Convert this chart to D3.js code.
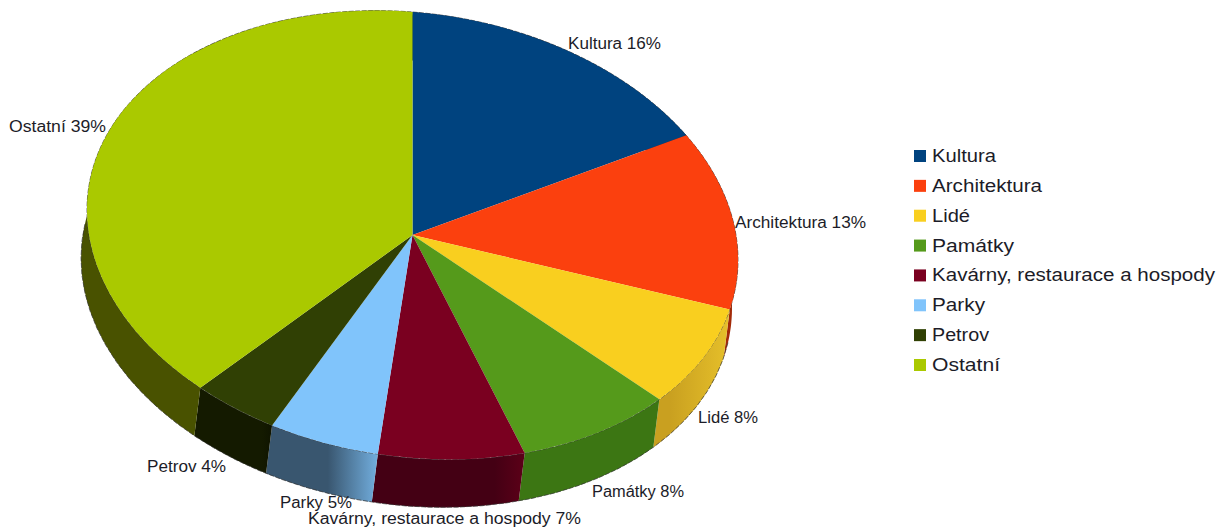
<!DOCTYPE html>
<html>
<head>
<meta charset="utf-8">
<script src="https://cdn.jsdelivr.net/npm/d3@7"></script>
<style>
  html, body { margin: 0; padding: 0; background: #fff; }
  svg { display: block; }
  text { font-family: "Liberation Sans", Arial, sans-serif; fill: #1c1c28; }
</style>
</head>
<body>
<svg id="chart" width="1216" height="527"></svg>
<script>
const categories = ['Kultura', 'Architektura', 'Lidé', 'Památky', 'Kavárny, restaurace a hospody', 'Parky', 'Petrov', 'Ostatní'];
// estimated off the slice edges, each one rounds to the printed label
const values = [15.9, 12.7, 7.7, 8.1, 7.3, 5.4, 4.2, 38.7];

const colors = ['#00437f', '#fb400e', '#f9cf1f', '#559a1b', '#7a0020', '#80c4fb', '#304004', '#aac900'];
// wall shading: main colour, colour at the right end, width of the fade in px
const walls = [
  ['#00284f', '#00284f', 0], ['#a32a08', '#a32a08', 0], ['#c9a020', '#e6c02a', 60], ['#3c7613', '#3f7c15', 0],
  ['#440014', '#5c0018', 30], ['#39566f', '#72aede', 50], ['#141a00', '#0f1400', 10], ['#495200', '#86a000', 22]
];

const svg = d3.select('#chart');
// the pie is a sheared ellipse: the right side sits lower than the left
const cx = 412.5, cy = 235, rx = 325.5, ry = 223, shear = 25;
const dropX = -6, dropY = 48;

const slices = d3.pie().sort(null).value(d => d)(values);
const topPt = t => [cx + rx * Math.sin(t), cy - ry * Math.cos(t) + shear * Math.sin(t)];
const botPt = t => { const p = topPt(t); return [p[0] + dropX, p[1] + dropY]; };
const arcPts = (fn, a, b) => d3.range(41).map(i => fn(a + (b - a) * i / 40));
const line = d3.line();

const defs = svg.append('defs');

// side walls first, the top face covers whatever is not visible
const wallG = svg.append('g');
slices.forEach((s, i) => {
  const upper = arcPts(topPt, s.startAngle, s.endAngle);
  const lower = arcPts(botPt, s.endAngle, s.startAngle);
  const pts = upper.concat(lower);
  const [x0, x1] = d3.extent(pts, p => p[0]);
  const [main, edge, fade] = walls[i];
  const grad = defs.append('linearGradient')
      .attr('id', 'wall' + i)
      .attr('gradientUnits', 'userSpaceOnUse')
      .attr('x1', x0).attr('x2', x1).attr('y1', 0).attr('y2', 0);
  grad.append('stop').attr('offset', 0).attr('stop-color', main);
  grad.append('stop').attr('offset', Math.max(0, 1 - fade / (x1 - x0))).attr('stop-color', main);
  grad.append('stop').attr('offset', 1).attr('stop-color', edge);
  wallG.append('path')
      .attr('d', line(pts) + 'Z')
      .attr('fill', `url(#wall${i})`);
});

// rough dark rim around the pie
const rim = d3.range(0, Math.PI * 2 + 0.01, 0.02);
svg.append('path')
    .attr('d', line(rim.map(topPt)))
    .attr('fill', 'none')
    .attr('stroke', '#333')
    .attr('stroke-width', 1)
    .attr('stroke-dasharray', '5 1.5')
    .attr('opacity', 0.7);
svg.append('path')
    .attr('d', line(arcPts(botPt, Math.PI * 0.55, Math.PI * 1.55)))
    .attr('fill', 'none')
    .attr('stroke', '#333')
    .attr('stroke-width', 1)
    .attr('stroke-dasharray', '5 1.5')
    .attr('opacity', 0.7);

// top face
const arc = d3.arc().innerRadius(0).outerRadius(rx);
svg.append('g')
    .attr('transform', `matrix(1,${shear / rx},0,${ry / rx},${cx},${cy})`)
  .selectAll('path')
  .data(slices)
  .join('path')
    .attr('d', arc)
    .attr('fill', (d, i) => colors[i]);

// slice labels, left edge and baseline by hand, no leader lines in the original
const labelPos = [[568, 49], [735, 228], [698, 423], [592, 497], [308, 524], [280, 508], [147, 472], [9, 132]];
const labelWidth = [93, 131, 60, 92, 273, 72, 79, 97];
svg.append('g')
  .selectAll('text')
  .data(categories)
  .join('text')
    .attr('x', (d, i) => labelPos[i][0])
    .attr('y', (d, i) => labelPos[i][1])
    .attr('font-size', 16)
    .attr('textLength', (d, i) => labelWidth[i])
    .attr('lengthAdjust', 'spacingAndGlyphs')
    .text((d, i) => `${d} ${Math.round(values[i])}%`);

// legend
const rowY = d3.scalePoint().domain(categories).range([156, 365]);
const legend = svg.append('g');
legend.selectAll('rect')
  .data(categories)
  .join('rect')
    .attr('x', 914)
    .attr('y', d => rowY(d) - 6)
    .attr('width', 12)
    .attr('height', 12)
    .attr('fill', (d, i) => colors[i]);
const legendWidth = [64, 110, 38, 82, 283, 53, 57, 68];
legend.selectAll('text')
  .data(categories)
  .join('text')
    .attr('x', 932)
    .attr('y', d => rowY(d) + 6)
    .attr('font-size', 17.5)
    .attr('textLength', (d, i) => legendWidth[i])
    .attr('lengthAdjust', 'spacingAndGlyphs')
    .text(d => d);
</script>
</body>
</html>
